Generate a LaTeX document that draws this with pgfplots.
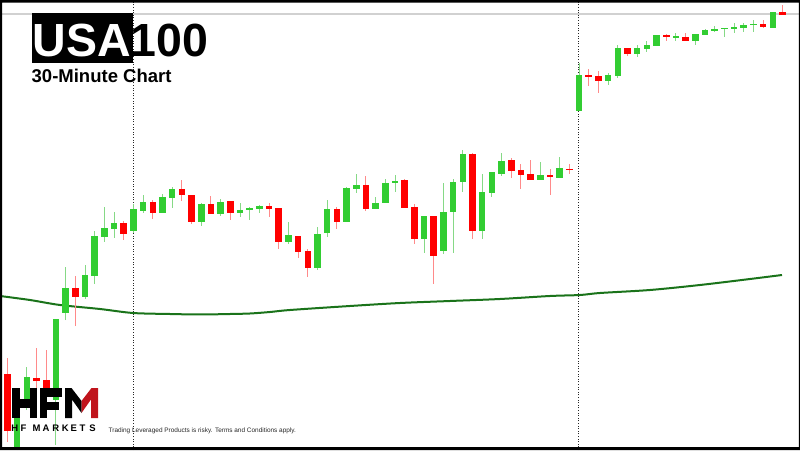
\documentclass[border=0pt]{standalone}
\usepackage{fontspec}
\setmainfont{Liberation Sans}
\usepackage{pgfplots}
\pgfplotsset{compat=1.18}
\usepackage{pgfplotstable}
\definecolor{cg}{HTML}{32CD32}
\definecolor{cgw}{HTML}{86D986}
\definecolor{cr}{HTML}{FF0000}
\definecolor{crw}{HTML}{FF8A8A}
\definecolor{ma}{HTML}{1A731A}
\definecolor{hfmred}{HTML}{C0141C}

% index, open, high, low, close (chart height units)
\pgfplotstableread{
i o h l c
2 3 55 0 45
3 45 83 40 73
6 50 131 5 131
7 137 183 130 162
9 153 185 151 175
10 174 219 166 214
11 213 243 208 222
12 221 238 212 227
14 219 246 217 241
15 239 255 237 248
17 237 256 237 253
18 252 263 242 261
21 228 247 224 246
23 236 251 234 248
25 237 247 233 240
26 240 243 230 242
27 241 245 237 244
30 208 228 206 215
33 182 223 180 216
34 217 250 213 241
36 228 263 228 262
37 261 276 257 265
39 241 253 241 247
40 247 271 247 267
41 267 275 258 269
44 211 234 197 234
46 199 267 196 238
47 238 271 197 268
48 268 300 258 296
50 219 276 211 258
51 257 278 253 278
52 276 297 274 289
56 270 288 270 275
58 272 293 272 282
60 339 387 339 375
63 369 377 365 375
64 374 405 372 402
66 396 405 393 402
67 401 409 398 405
68 404 415 404 415
70 412 417 409 414
72 409 416 405 416
73 415 421 415 420
74 419 424 418 421
75 421 422 413 422
76 421 427 417 423
77 422 427 418 425
78 425 430 418 426
80 422 438 422 438
}\greens

\pgfplotstableread{
i o h l c
1 76 92 8 19
4 72 102 60 69
5 70 100 48 55
8 162 174 124 153
13 227 229 210 216
16 248 250 231 237
19 261 270 249 255
20 255 255 226 228
22 246 254 236 236
24 249 249 230 237
28 244 247 233 241
29 242 242 201 208
31 214 214 192 198
32 199 201 173 182
35 241 243 221 228
38 265 274 239 241
42 270 271 242 242
43 243 246 206 211
45 234 234 166 194
49 296 297 211 219
53 290 292 272 279
54 280 286 261 275
55 276 290 270 270
57 275 281 255 273
59 281 286 276 280
61 375 381 364 373
62 374 379 357 369
65 402 402 394 396
69 415 416 409 413
71 413 417 409 409
79 426 430 422 423
81 438 445 435 435
}\reds

\begin{document}
\begin{tikzpicture}
\begin{axis}[
  width=800pt, height=450pt, scale only axis,
  xmin=0.2258, xmax=82.806, ymin=0, ymax=450,
  hide axis, clip=true,
]
% top grey line
\draw[black!18, line width=1.3pt] (axis cs:0.2258,436) -- (axis cs:82.806,436);
% day separators
\draw[black!85, line width=1pt, dash pattern=on 1pt off 1.6pt] (axis cs:13.955,0) -- (axis cs:13.955,450);
\draw[black!85, line width=1pt, dash pattern=on 1pt off 1.6pt] (axis cs:59.94,0) -- (axis cs:59.94,450);
% moving average
\addplot[ma, line width=2pt, smooth, mark=none] coordinates {
(0.2258,154) (3.32,150) (6.42,145) (10.55,141) (13.95,137) (17.77,136)
(20.87,135.5) (23.97,136) (26.03,136.5) (28.10,138) (30.16,140) (36.35,144)
(41.52,147) (46.68,149) (51.84,151) (57.0,154) (60.1,155) (62.16,157)
(67.32,160) (72.48,165) (77.65,171) (80.95,175)};
% wicks
\addplot[draw=none, mark=none, error bars/.cd, y dir=plus, y explicit, error mark=none,
  error bar style={draw=cgw, line width=1pt}]
  table[x=i, y=l, y error plus expr=\thisrow{h}-\thisrow{l}] {\greens};
\addplot[draw=none, mark=none, error bars/.cd, y dir=plus, y explicit, error mark=none,
  error bar style={draw=crw, line width=1pt}]
  table[x=i, y=l, y error plus expr=\thisrow{h}-\thisrow{l}] {\reds};
% bodies
\addplot[draw=none, mark=none, error bars/.cd, y dir=plus, y explicit, error mark=none,
  error bar style={draw=cg, line width=6.6pt}]
  table[x=i, y=o, y error plus expr=\thisrow{c}-\thisrow{o}] {\greens};
\addplot[draw=none, mark=none, error bars/.cd, y dir=plus, y explicit, error mark=none,
  error bar style={draw=cr, line width=6.6pt}]
  table[x=i, y=c, y error plus expr=\thisrow{o}-\thisrow{c}] {\reds};
\end{axis}
\pgfresetboundingbox
\useasboundingbox (0,0) rectangle (800pt,450pt);
\begin{scope}[x=1pt, y=-1pt, yshift=450pt]
  % title
  \fill[black] (32,13) rectangle (133,63);
  \node[anchor=base west, inner sep=0pt, font=\fontsize{46.5}{46.5}\selectfont\bfseries] at (32.4,57) {\textcolor{white}{USA}100};
  \node[anchor=base west, inner sep=0pt, font=\fontsize{18.5}{18.5}\selectfont\bfseries] at (31.5,83) {30-Minute Chart};
  % logo
  \fill[black] (12,388) rectangle (19.5,418);
  \fill[black] (29.5,388) rectangle (37,418);
  \fill[black] (19.5,399) rectangle (29.5,407.5);
  \fill[black] (39.5,388) rectangle (47,418);
  \fill[black] (47,388) rectangle (62,396.5);
  \fill[black] (47,402) rectangle (59,409.5);
  \fill[black] (65,418) -- (65,388) -- (71.5,388) -- (81.5,401) -- (81.5,413) -- (72,399.5) -- (72,418) -- cycle;
  \fill[hfmred] (81.5,401) -- (91.5,388) -- (98,388) -- (98,418) -- (91,418) -- (91,399.5) -- (81.5,413) -- cycle;
  \foreach \xx/\ll in {14.7/H,23.5/F,36.7/M,46/A,55.8/R,65.2/K,73.8/E,82.5/T,92.5/S}
    \node[anchor=base, inner sep=0pt, font=\fontsize{9.5}{9.5}\selectfont\bfseries] at (\xx,431) {\ll};
  \node[anchor=base west, inner sep=0pt, text=black!85, font=\fontsize{6.45}{6.45}\selectfont] at (108.5,432) {Trading Leveraged Products is risky. Terms and Conditions apply.};
  % frame
  \fill[black, even odd rule] (0,0) rectangle (800,450) (2,2.7) rectangle (798.8,447);
\end{scope}
\end{tikzpicture}
\end{document}
